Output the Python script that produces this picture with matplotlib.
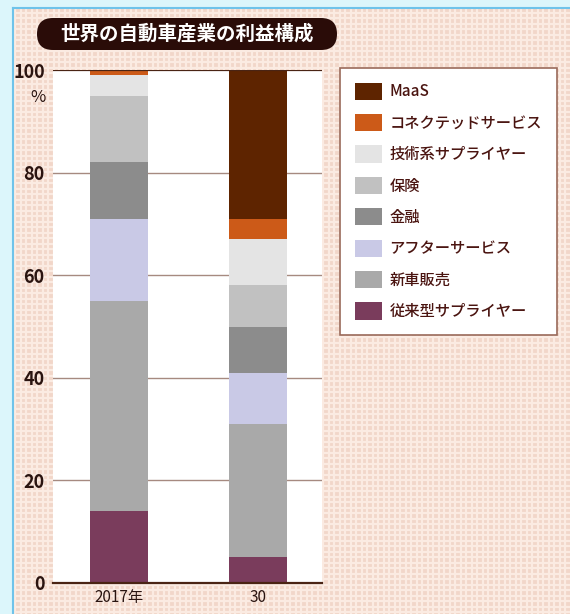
import matplotlib
matplotlib.use('Agg')
import matplotlib.pyplot as plt
import numpy as np
from matplotlib.patches import FancyBboxPatch

plt.rcParams['font.family'] = ['Noto Sans CJK JP', 'DejaVu Sans']

# データ
years = ['2017年', '30']
categories = ['従来型サプライヤー', '新車販売', 'アフターサービス', '金融',
              '保険', '技術系サプライヤー', 'コネクテッドサービス', 'MaaS']
values_2017 = [14, 41, 16, 11, 13, 4, 1, 0]
values_2030 = [5, 26, 10, 9, 8, 9, 4, 29]
colors = ['#7a3c5c', '#a9a9a9', '#c9c9e6', '#8c8c8c',
          '#c1c1c1', '#e4e4e4', '#cc5a18', '#5e2400']
yticks = [0, 20, 40, 60, 80, 100]

W, H = 570, 614
fig = plt.figure(figsize=(W / 100, H / 100), dpi=100, facecolor='#dcf6fb')

# 背景のチェック模様パネル
bg = fig.add_axes([13 / W, 0, (W - 13) / W, (H - 8) / H])
bg.set_xlim(0, 557)
bg.set_ylim(0, 606)
bg.set_facecolor('#f2d6c9')
bg.vlines(np.arange(2, 557, 5.5), 0, 606, color='#fbebe2', lw=1.6)
bg.hlines(np.arange(2, 606, 5.5), 0, 557, color='#fbebe2', lw=1.6)
for s in ['top', 'left']:
    bg.spines[s].set_color('#6fc3ea')
    bg.spines[s].set_linewidth(1.5)
for s in ['bottom', 'right']:
    bg.spines[s].set_visible(False)
bg.set_xticks([])
bg.set_yticks([])

# タイトル
pill = FancyBboxPatch((37 / W, (H - 50) / H), 300 / W, 32 / H,
                      boxstyle='round,pad=0,rounding_size=0.028',
                      transform=fig.transFigure, facecolor='#2a0c08',
                      edgecolor='none', mutation_aspect=W / H)
fig.patches.append(pill)
fig.text(187 / W, (H - 34) / H, '世界の自動車産業の利益構成', color='white',
         fontsize=14, fontweight='bold', ha='center', va='center')

# 本体
ax = fig.add_axes([53 / W, (H - 583) / H, 269 / W, 513 / H])
ax.set_facecolor('white')
x = np.arange(len(years))
bottom = np.zeros(len(years))
bars = []
for cat, v17, v30, c in zip(categories, values_2017, values_2030, colors):
    vals = np.array([v17, v30])
    b = ax.bar(x, vals, bottom=bottom, width=0.417, color=c, label=cat, zorder=3)
    bars.append(b)
    bottom += vals

ax.set_xlim(-0.475, 1.46)
ax.set_ylim(0, 100)
ax.set_yticks(yticks)
ax.set_yticklabels([str(t) for t in yticks], fontsize=13, fontweight='bold',
                   color='#2a1410')
ax.set_xticks(x)
ax.set_xticklabels(years, fontsize=11, color='#2a1410')
ax.tick_params(length=0, pad=6)
ax.tick_params(axis='x', pad=4)
for t in [20, 40, 60, 80]:
    ax.axhline(t, color='#a68a80', lw=1, zorder=1)
ax.axhline(100, color='#4a2414', lw=1.6, zorder=4)
for s in ['top', 'left', 'right']:
    ax.spines[s].set_visible(False)
ax.spines['bottom'].set_color('#4a2414')
ax.spines['bottom'].set_linewidth(1.6)
ax.spines['bottom'].set_zorder(4)
fig.text(46 / W, (H - 98) / H, '%', fontsize=12, color='#2a1410',
         ha='right', va='center')

# 凡例
handles = [b.patches[0] for b in bars][::-1]
labels = categories[::-1]
leg = fig.legend(handles, labels, loc='upper left',
                 bbox_to_anchor=(340 / W, (H - 68) / H),
                 prop={'size': 11, 'weight': 'medium'},
                 handlelength=1.8, handleheight=1.35, labelspacing=0.9,
                 handletextpad=0.5, borderpad=0.95, borderaxespad=0,
                 fancybox=False, frameon=True)
leg.get_frame().set_edgecolor('#9a6a5a')
leg.get_frame().set_linewidth(1.2)
leg.get_frame().set_facecolor('white')
leg.get_frame().set_alpha(1)
for t in leg.get_texts():
    t.set_color('#4a1410')

fig.savefig('out.png', dpi=100, facecolor=fig.get_facecolor())
